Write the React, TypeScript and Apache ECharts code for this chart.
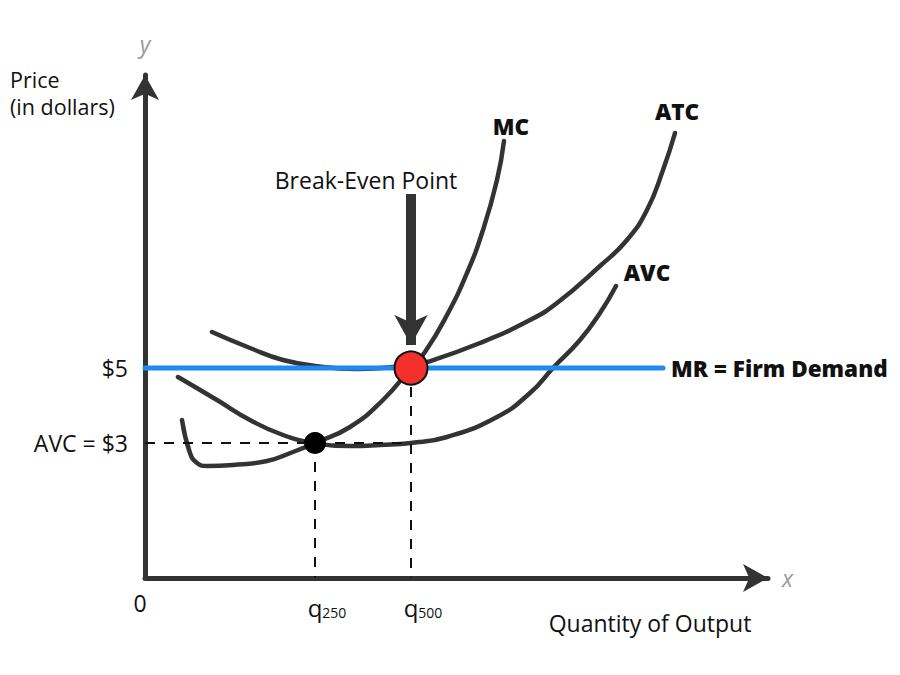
import React, { useEffect, useRef } from "react";
import * as echarts from "echarts";

// ---------- data (abstract chart units) ----------
const mcPoints: [number, number][] = [
  [3.7, 15.8], [4.5, 12.5], [5.2, 11.5], [6.2, 11.2], [8.8, 11.3], [12.2, 11.7],
  [14.8, 12.6], [17.0, 13.5], [20.5, 15.1], [23.8, 17.8], [26.6, 21.0], [28.0, 22.6],
  [30.2, 26.3], [32.2, 30.5], [33.8, 34.8], [35.2, 39.8], [35.9, 43.7],
];
const atcPoints: [number, number][] = [
  [6.7, 24.6], [10.5, 23.0], [13.8, 21.8], [17.8, 21.1], [21.2, 20.9], [24.8, 21.1],
  [26.6, 21.3], [28.2, 21.6], [33.5, 23.5], [38.5, 25.8], [41.2, 27.5], [45.5, 31.2],
  [48.2, 33.8], [50.2, 36.8], [51.8, 40.8], [53.0, 44.5],
];
const avcPoints: [number, number][] = [
  [3.3, 20.1], [7.2, 17.8], [10.5, 15.8], [13.8, 14.3], [17.0, 13.5], [20.5, 13.2],
  [23.5, 13.3], [26.6, 13.5], [30.2, 14.1], [35.2, 16.1], [38.5, 18.5], [40.8, 21.0],
  [43.5, 23.8], [45.5, 26.5], [47.1, 29.2],
];
const priceLevel = 21; // $5
const avcLevel = 13.5; // $3
const q250 = 17;
const q500 = 26.6;
const mrEndX = 51.8;
const arrowTopY = 38.4;
const arrowTipY = 23.3;
const yTickLabels: Record<string, string> = { "21": "$5", "13.5": "AVC = $3" };
const xTickSubs: Record<string, string> = { "17": "250", "26.6": "500" };
const curveLabels = [
  { name: "MC", value: [36.6, 45.2] },
  { name: "ATC", value: [53.2, 46.7] },
  { name: "AVC", value: [50.2, 30.6] },
  { name: "Break-Even Point", value: [22.1, 39.8] },
];

const FONT = '"Open Sans", Lato, "Noto Sans", sans-serif';
const INK = "#111";
const CURVE = "#333";
const REG = 23; // regular text size
const BOLD = 22.5; // bold label size

export default function App() {
  const ref = useRef<HTMLDivElement>(null);
  useEffect(() => {
    if (!ref.current) return;
    const chart = echarts.init(ref.current, undefined, { renderer: "svg" });
    const curveStyle = { color: CURVE, width: 4.5, cap: "round" as const, join: "round" as const };
    const curve = (name: string, data: [number, number][]) => ({
      name,
      type: "line",
      data,
      smooth: 0.5,
      symbol: "none",
      lineStyle: curveStyle,
      silent: true,
      z: 2,
    });
    const option: any = {
      animation: false,
      backgroundColor: "#fff",
      textStyle: { fontFamily: FONT },
      grid: { left: 145, top: 75, right: 132, bottom: 97 },
      xAxis: {
        type: "value",
        min: 0,
        max: 62.3,
        name: "x",
        nameLocation: "end",
        nameGap: 14,
        nameTextStyle: { color: "#999", fontStyle: "italic", fontSize: 23, fontFamily: FONT, verticalAlign: "middle" },
        axisLine: { show: true, lineStyle: { color: CURVE, width: 5 }, symbol: ["none", "arrow"], symbolSize: [21, 25] },
        axisTick: { show: false },
        splitLine: { show: false },
        axisLabel: {
          customValues: [0, q250, q500],
          margin: 13,
          formatter: (v: number) =>
            v === 0 ? "{n|0}{sp| }" : `{h|${xTickSubs[String(v)]}}{q|q}{s|${xTickSubs[String(v)]}}`,
          rich: {
            n: { fontSize: REG, color: INK, fontFamily: FONT, verticalAlign: "bottom" },
            sp: { width: 10, fontSize: REG, verticalAlign: "bottom" },
            h: { fontSize: 14, color: "rgba(0,0,0,0)", fontFamily: FONT, verticalAlign: "bottom" },
            q: { fontSize: 24, color: INK, fontFamily: FONT, lineHeight: 28, verticalAlign: "bottom" },
            s: { fontSize: 14, lineHeight: 11, color: INK, fontFamily: FONT, verticalAlign: "bottom" },
          },
        },
      },
      yAxis: {
        type: "value",
        min: 0,
        max: 50.3,
        name: "y",
        nameLocation: "end",
        nameGap: 20,
        nameTextStyle: { color: "#999", fontStyle: "italic", fontSize: 23, fontFamily: FONT, align: "center" },
        axisLine: { show: true, lineStyle: { color: CURVE, width: 5 }, symbol: ["none", "arrow"], symbolSize: [21, 25] },
        axisTick: { show: false },
        splitLine: { show: false },
        axisLabel: {
          customValues: [avcLevel, priceLevel],
          margin: 17,
          fontSize: REG,
          color: INK,
          fontFamily: FONT,
          formatter: (v: number) => yTickLabels[String(v)] || "",
        },
      },
      graphic: [
        {
          type: "text",
          x: 10,
          y: 79,
          style: { text: "Price", fontSize: 21.5, fontFamily: FONT, fill: INK, verticalAlign: "middle" },
        },
        {
          type: "text",
          x: 10,
          y: 106,
          style: { text: "(in dollars)", fontSize: 21.5, fontFamily: FONT, fill: INK, verticalAlign: "middle" },
        },
        {
          type: "text",
          x: 650,
          y: 623,
          style: {
            text: "Quantity of Output",
            fontSize: REG,
            fontFamily: FONT,
            fill: INK,
            align: "center",
            verticalAlign: "middle",
          },
        },
      ],
      series: [
        {
          name: "guides",
          type: "line",
          data: [],
          silent: true,
          z: 1,
          markLine: {
            silent: true,
            symbol: ["none", "none"],
            label: { show: false },
            lineStyle: { color: INK, width: 2, type: [10, 9] },
            data: [
              [{ coord: [0, avcLevel] }, { coord: [q500, avcLevel] }],
              [{ coord: [q250, avcLevel] }, { coord: [q250, 0] }],
              [{ coord: [q500, priceLevel] }, { coord: [q500, 0] }],
            ],
          },
        },
        curve("AVC", avcPoints),
        curve("ATC", atcPoints),
        curve("MC", mcPoints),
        {
          name: "MR",
          type: "line",
          data: [[0, priceLevel], [mrEndX, priceLevel]],
          symbol: "none",
          clip: false,
          z: 3,
          lineStyle: { color: "#2189f2", width: 5, cap: "round" },
          silent: true,
          endLabel: {
            show: true,
            formatter: "MR = Firm Demand",
            distance: 8,
            fontSize: BOLD,
            fontWeight: 800,
            color: INK,
            fontFamily: FONT,
          },
        },
        {
          name: "arrow",
          type: "line",
          data: [],
          silent: true,
          z: 4,
          markLine: {
            silent: true,
            symbol: ["none", "arrow"],
            symbolSize: [25, 30],
            label: { show: false },
            lineStyle: { color: CURVE, width: 10, type: "solid" },
            data: [[{ coord: [q500, arrowTopY] }, { coord: [q500, arrowTipY] }]],
          },
        },
        {
          name: "points",
          type: "scatter",
          silent: true,
          z: 10,
          itemStyle: { opacity: 1 },
          data: [
            { value: [q250, avcLevel], symbolSize: 22, itemStyle: { color: "#000", opacity: 1 } },
            {
              value: [q500, priceLevel],
              symbolSize: 33,
              itemStyle: { color: "#f2312c", borderColor: INK, borderWidth: 2, opacity: 1 },
            },
          ],
        },
        {
          name: "labels",
          type: "scatter",
          silent: true,
          z: 10,
          symbolSize: 1,
          itemStyle: { color: "rgba(0,0,0,0)", opacity: 1 },
          data: curveLabels.map((d) => ({
            ...d,
            label:
              d.name === "Break-Even Point"
                ? { fontWeight: "normal", fontSize: REG }
                : { fontWeight: 800, fontSize: BOLD },
          })),
          label: {
            show: true,
            position: "inside",
            formatter: (p: any) => p.name,
            fontFamily: FONT,
            color: INK,
          },
          labelLayout: { hideOverlap: false },
        },
      ],
    };
    chart.setOption(option);
    return () => chart.dispose();
  }, []);
  return (
    <div
      ref={ref}
      style={{ position: "absolute", left: 0, top: 0, width: 900, height: 675, background: "#fff" }}
    />
  );
}
